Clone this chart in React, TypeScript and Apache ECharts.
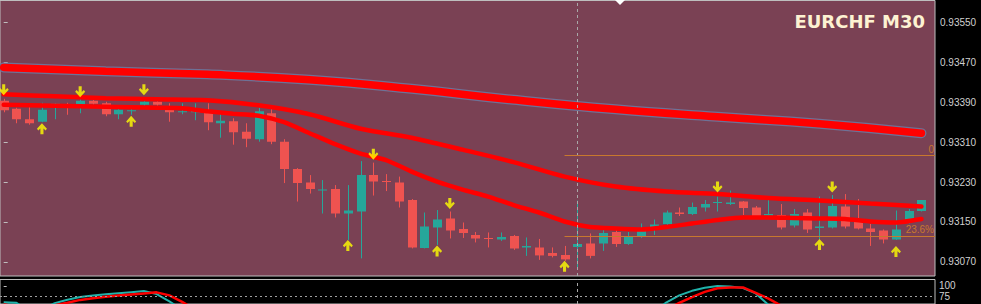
import React, { useEffect, useRef } from "react";
import * as echarts from "echarts";

// ---------- data ----------
const chartTitle = "EURCHF M30";

// [open, close, low, high] per M30 bar
const candles: number[][] = [
  [0.93393, 0.93374, 0.9337, 0.93397],
  [0.93377, 0.93356, 0.93348, 0.93379],
  [0.93356, 0.93348, 0.93345, 0.93385],
  [0.93351, 0.93375, 0.9335, 0.93389],
  [0.93383, 0.93387, 0.93356, 0.93388],
  [0.93385, 0.93381, 0.93365, 0.93389],
  [0.93385, 0.93393, 0.93368, 0.93396],
  [0.93393, 0.93387, 0.93385, 0.93396],
  [0.93388, 0.93366, 0.93362, 0.93391],
  [0.93366, 0.93375, 0.93356, 0.93379],
  [0.93372, 0.93374, 0.93365, 0.93377],
  [0.93385, 0.93391, 0.93377, 0.93395],
  [0.93391, 0.93385, 0.93383, 0.93393],
  [0.93377, 0.9337, 0.93351, 0.93388],
  [0.9337, 0.93372, 0.93366, 0.93388],
  [0.9337, 0.93374, 0.93354, 0.93388],
  [0.93372, 0.9335, 0.93334, 0.93388],
  [0.93348, 0.93353, 0.93319, 0.93368],
  [0.93352, 0.9333, 0.93305, 0.93358],
  [0.93331, 0.93317, 0.933, 0.93348],
  [0.93316, 0.93372, 0.93311, 0.93379],
  [0.93368, 0.93311, 0.93306, 0.93377],
  [0.93311, 0.93256, 0.93228, 0.93316],
  [0.93256, 0.93228, 0.93191, 0.93258],
  [0.93229, 0.93216, 0.93207, 0.93244],
  [0.93213, 0.93215, 0.93167, 0.93234],
  [0.93216, 0.93167, 0.93159, 0.93224],
  [0.93167, 0.93173, 0.93114, 0.93224],
  [0.93171, 0.93244, 0.93077, 0.93272],
  [0.93244, 0.93231, 0.93203, 0.93269],
  [0.93232, 0.9323, 0.93212, 0.93246],
  [0.93229, 0.93191, 0.93179, 0.93241],
  [0.93194, 0.93099, 0.93097, 0.93196],
  [0.93098, 0.93141, 0.93097, 0.93169],
  [0.93139, 0.93155, 0.93104, 0.93174],
  [0.93157, 0.93133, 0.93117, 0.93171],
  [0.93136, 0.93128, 0.93118, 0.93149],
  [0.93124, 0.93117, 0.93109, 0.9313],
  [0.93118, 0.93116, 0.93099, 0.93129],
  [0.93115, 0.9312, 0.93112, 0.93129],
  [0.93122, 0.93097, 0.93094, 0.93124],
  [0.93099, 0.93102, 0.93082, 0.93119],
  [0.93099, 0.93083, 0.93074, 0.93116],
  [0.93088, 0.93082, 0.93079, 0.93099],
  [0.93084, 0.93075, 0.93072, 0.93102],
  [0.931, 0.93106, 0.93058, 0.93193],
  [0.93107, 0.93082, 0.93077, 0.93127],
  [0.93107, 0.93128, 0.93092, 0.93141],
  [0.9313, 0.93106, 0.931, 0.93135],
  [0.93106, 0.93122, 0.93104, 0.9313],
  [0.93121, 0.93132, 0.93118, 0.93147],
  [0.93139, 0.93145, 0.93124, 0.93155],
  [0.93146, 0.93169, 0.93142, 0.93173],
  [0.93169, 0.93166, 0.93162, 0.93179],
  [0.93166, 0.9318, 0.93164, 0.93189],
  [0.93179, 0.93186, 0.93171, 0.93194],
  [0.93188, 0.9319, 0.93171, 0.93201],
  [0.93186, 0.93189, 0.93184, 0.93213],
  [0.93191, 0.93178, 0.93164, 0.93192],
  [0.93179, 0.93162, 0.93159, 0.93182],
  [0.93163, 0.93166, 0.93162, 0.93198],
  [0.93164, 0.93139, 0.93135, 0.93186],
  [0.93143, 0.93166, 0.93139, 0.93176],
  [0.93169, 0.93135, 0.93128, 0.93176],
  [0.93138, 0.93141, 0.93115, 0.93201],
  [0.93139, 0.93182, 0.93137, 0.93204],
  [0.93181, 0.93141, 0.93137, 0.93206],
  [0.93155, 0.93137, 0.93135, 0.93196],
  [0.93137, 0.9313, 0.93102, 0.93146],
  [0.93133, 0.93115, 0.93107, 0.93135],
  [0.93115, 0.93135, 0.93114, 0.93173],
  [0.93154, 0.93172, 0.93147, 0.93176],
  [0.93172, 0.93194, 0.93171, 0.93194],
];

const priceTicks = [0.9307, 0.9315, 0.9323, 0.9331, 0.9339, 0.9347, 0.9355];

// moving averages, sampled at bar indices
const maSlowBars = [0, 8, 16, 24, 32, 40, 48, 56, 64, 72];
const maSlow = [0.9346, 0.93452, 0.93446, 0.93435, 0.93417, 0.93395, 0.93376, 0.93361, 0.93347, 0.93328];

const maMidBars = [0, 4, 8, 12, 16, 20, 24, 28, 32, 36, 40, 44, 48, 52, 56, 60, 64, 68, 72];
const maMid = [
  0.93406, 0.93402, 0.93398, 0.93396, 0.93394, 0.93384, 0.93366, 0.93337, 0.93319, 0.93295,
  0.9327, 0.93241, 0.93221, 0.93211, 0.93206, 0.93198, 0.93193, 0.93187, 0.93181,
];

const maFastBars = [
  0, 2, 4, 6, 8, 10, 12, 14, 16, 18, 20, 22, 24, 26, 28, 30, 32, 34, 36, 38, 40, 42, 44, 46, 48,
  50, 52, 54, 56, 58, 60, 62, 64, 66, 68, 70, 72,
];
const maFast = [
  0.93385, 0.93384, 0.93383, 0.93382, 0.93381, 0.9338, 0.93379, 0.93378, 0.93372, 0.93367,
  0.93363, 0.9335, 0.93328, 0.93306, 0.93287, 0.93274, 0.93251, 0.93231, 0.93215, 0.93201,
  0.93184, 0.93169, 0.93151, 0.9314, 0.93137, 0.93135, 0.9314, 0.93147, 0.93154, 0.93159,
  0.93159, 0.93158, 0.93157, 0.93156, 0.93151, 0.93149, 0.93156,
];

// signal arrows [bar, price]
const upArrows = [
  [3, 0.93337], [10, 0.93352], [27, 0.93103], [34, 0.93092], [44, 0.93061], [64, 0.93105], [70, 0.93091],
];
const downArrows = [
  [0, 0.93415], [6, 0.93411], [11, 0.93415], [29, 0.93286], [35, 0.93187], [56, 0.9322], [65, 0.9322],
];

// fibonacci levels
const fiboLevels = [
  { name: "0", price: 0.93283 },
  { name: "23.6%", price: 0.93122 },
];
const fiboStartBar = 44;
const crosshairBar = 45;

// stochastic sub-window (null = below the visible part)
const stochMain: (number | null)[] = [
  62, 61, 40, 45, 60, 68, 74, 77.5, 80.5, 83, 85.5, 88, 81, 64, 45,
  null, null, null, null, null, null, null, null, null, null, null, null, null, null, null,
  null, null, null, null, null, null, null, null, null, null, null, null, null, null, null,
  null, null, null, null, null, null,
  40, 62, 78, 88.5, 95.5, 99.5, 98.3, 95, 82.5, 56, 40,
  null, null, null, null, null, null, null, null, null, null, null,
];
const stochSignal: (number | null)[] = [
  57, 52, 48, 50, 55, 61, 67.5, 71.5, 75, 77.5, 80, 82.5, 85, 78, 63, 45,
  null, null, null, null, null, null, null, null, null, null, null, null, null, null,
  null, null, null, null, null, null, null, null, null, null, null, null, null, null, null,
  null, null, null, null, null, null, null,
  45, 60.5, 74, 86, 94.5, 96.4, 96.4, 84, 70.5, 54, 40,
  null, null, null, null, null, null, null, null, null, null,
];
const stochTicks = [75, 100];
const stochLevel = 75;

// ---------- styles ----------
const BG_PLOT = "#7A4154";
const BORDER = "#BEBEBE";
const BULL = "#26A69A";
const BEAR = "#EF5350";
const MA_RED = "#FF0000";
const FIBO = "#C8782E";
const AXIS_TXT = "#D0D0D0";

const X_MIN = -0.29;
const X_MAX = 73.064;
const P_MIN = 0.930417;
const P_MAX = 0.935941;
const S_MIN = 58;
const S_MAX = 114.8;

const ARROW_DOWN = "path://M3.8,0 L7.2,0 L7.2,6 L9.5,3.8 L11,5.6 L5.5,11.5 L0,5.6 L1.5,3.8 L3.8,6 Z";
const ARROW_UP = "path://M3.8,12 L7.2,12 L7.2,6 L9.5,8.2 L11,6.4 L5.5,0.5 L0,6.4 L1.5,8.2 L3.8,6 Z";

function pairs(bars: number[], vals: number[]) {
  return bars.map((b, i) => [b, vals[i]]);
}

export default function App() {
  const ref = useRef<HTMLDivElement>(null);

  useEffect(() => {
    if (!ref.current) return;
    const chart = echarts.init(ref.current, undefined, { renderer: "svg" });

    const option: any = {
      animation: false,
      backgroundColor: "#000000",
      textStyle: { fontFamily: "Liberation Sans" },
      title: {
        text: chartTitle,
        right: 51,
        top: 7,
        textStyle: { color: "#FDF2D2", fontSize: 18, fontWeight: "bold", fontFamily: "DejaVu Sans" },
      },
      grid: [
        { left: -1, top: 0.5, width: 936, height: 275.5, show: true, backgroundColor: BG_PLOT, borderColor: BORDER, borderWidth: 1 },
        { left: -1, top: 279.5, width: 936, height: 25, show: true, backgroundColor: "#000000", borderColor: BORDER, borderWidth: 1 },
      ],
      xAxis: [
        { type: "value", gridIndex: 0, min: X_MIN, max: X_MAX, show: false },
        { type: "value", gridIndex: 1, min: X_MIN, max: X_MAX, show: false },
      ],
      yAxis: [
        {
          type: "value",
          gridIndex: 0,
          position: "right",
          min: P_MIN,
          max: P_MAX,
          scale: true,
          splitLine: { show: false },
          axisLine: { show: false },
          axisTick: { show: true, customValues: priceTicks, length: 4, lineStyle: { color: BORDER } },
          axisLabel: {
            customValues: priceTicks,
            formatter: (v: number) => v.toFixed(5),
            color: AXIS_TXT,
            fontSize: 10,
            margin: 5,
          },
        },
        {
          type: "value",
          gridIndex: 1,
          position: "right",
          min: S_MIN,
          max: S_MAX,
          scale: true,
          splitLine: { show: false },
          axisLine: { show: false },
          axisTick: { show: true, customValues: stochTicks, length: 3, lineStyle: { color: BORDER } },
          axisLabel: { customValues: stochTicks, color: AXIS_TXT, fontSize: 10, margin: 4 },
        },
      ],
      graphic: [
        {
          type: "polygon",
          shape: { points: [[615, 0], [625, 0], [620, 5]] },
          style: { fill: "#FFFFFF" },
          z: 100,
        },
      ],
      series: [
        {
          type: "custom",
          name: "candles",
          xAxisIndex: 0,
          yAxisIndex: 0,
          clip: true,
          z: 2,
          encode: { x: 0, y: [1, 2, 3, 4] },
          data: candles.map((d, i) => [i, d[0], d[1], d[2], d[3]]),
          renderItem: (_params: any, api: any) => {
            const x = api.value(0);
            const o = api.value(1);
            const c = api.value(2);
            const l = api.value(3);
            const h = api.value(4);
            const po = api.coord([x, o]);
            const pc = api.coord([x, c]);
            const pl = api.coord([x, l]);
            const ph = api.coord([x, h]);
            const color = c >= o ? BULL : BEAR;
            const cx = Math.round(po[0]) + 0.5;
            const top = Math.min(po[1], pc[1]);
            const bh = Math.max(Math.abs(po[1] - pc[1]), 1);
            return {
              type: "group",
              children: [
                { type: "line", shape: { x1: cx, y1: ph[1], x2: cx, y2: pl[1] }, style: { stroke: color, lineWidth: 1 } },
                { type: "rect", shape: { x: cx - 4.5, y: top, width: 9, height: bh }, style: { fill: color } },
              ],
            };
          },
        },
        {
          type: "line",
          name: "slowEdge",
          xAxisIndex: 0,
          yAxisIndex: 0,
          data: pairs(maSlowBars, maSlow),
          smooth: true,
          symbol: "none",
          z: 3,
          lineStyle: { color: "#6E7196", width: 10, cap: "round" },
        },
        {
          type: "line",
          name: "slow",
          xAxisIndex: 0,
          yAxisIndex: 0,
          data: pairs(maSlowBars, maSlow),
          smooth: true,
          symbol: "none",
          z: 3,
          lineStyle: { color: MA_RED, width: 7.5, cap: "round" },
        },
        {
          type: "line",
          name: "mid",
          xAxisIndex: 0,
          yAxisIndex: 0,
          data: pairs(maMidBars, maMid),
          smooth: 0.3,
          symbol: "none",
          z: 3,
          lineStyle: { color: MA_RED, width: 4.5, cap: "round" },
          markLine: {
            silent: true,
            symbol: ["none", "none"],
            label: { show: false },
            lineStyle: { color: "#A8A8A8", width: 1, type: [3, 3] },
            data: [{ xAxis: crosshairBar }],
          },
        },
        {
          type: "line",
          name: "fast",
          xAxisIndex: 0,
          yAxisIndex: 0,
          data: pairs(maFastBars, maFast),
          smooth: 0.2,
          symbol: "none",
          z: 3,
          lineStyle: { color: MA_RED, width: 4.5, cap: "round" },
          markLine: {
            silent: true,
            symbol: ["none", "none"],
            lineStyle: { color: FIBO, width: 1, type: "solid" },
            label: {
              show: true,
              position: "insideEndTop",
              formatter: "{b}",
              color: FIBO,
              fontSize: 10,
              distance: 1,
            },
            data: fiboLevels.map((f) => [
              { coord: [fiboStartBar, f.price], name: f.name },
              { coord: [X_MAX, f.price] },
            ]),
          },
        },
        {
          type: "scatter",
          name: "up",
          xAxisIndex: 0,
          yAxisIndex: 0,
          data: upArrows,
          symbol: ARROW_UP,
          symbolSize: [10, 11],
          itemStyle: { color: "#FFFF00" },
          z: 5,
        },
        {
          type: "scatter",
          name: "down",
          xAxisIndex: 0,
          yAxisIndex: 0,
          data: downArrows,
          symbol: ARROW_DOWN,
          symbolSize: [10, 11],
          itemStyle: { color: "#FFFF00" },
          z: 5,
        },
        {
          type: "line",
          name: "stochMain",
          xAxisIndex: 1,
          yAxisIndex: 1,
          data: stochMain.map((v, i) => [i, v == null ? "-" : v]),
          symbol: "none",
          connectNulls: false,
          z: 3,
          lineStyle: { color: "#20B2AA", width: 2 },
          markLine: {
            silent: true,
            symbol: ["none", "none"],
            label: { show: false },
            data: [
              { yAxis: stochLevel, lineStyle: { color: "#A0A0A0", width: 1, type: [2, 3] } },
              { xAxis: crosshairBar, lineStyle: { color: "#A8A8A8", width: 1, type: [3, 3] } },
            ],
          },
        },
        {
          type: "line",
          name: "stochSignal",
          xAxisIndex: 1,
          yAxisIndex: 1,
          data: stochSignal.map((v, i) => [i, v == null ? "-" : v]),
          symbol: "none",
          connectNulls: false,
          z: 4,
          lineStyle: { color: MA_RED, width: 2.5 },
        },
      ],
    };

    chart.setOption(option);
    return () => chart.dispose();
  }, []);

  return (
    <div
      ref={ref}
      style={{ position: "absolute", left: 0, top: 0, width: 981, height: 304, background: "#000" }}
    />
  );
}
